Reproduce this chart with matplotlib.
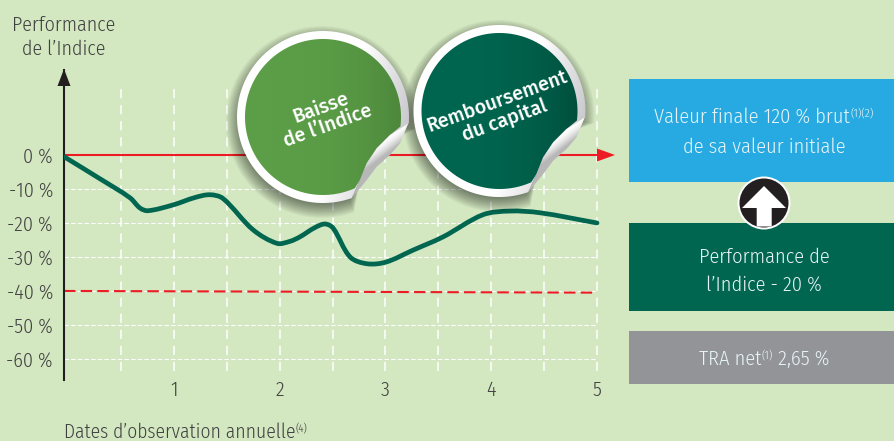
import numpy as np
import matplotlib
matplotlib.use('Agg')
import matplotlib.pyplot as plt
from matplotlib.patches import Circle, Polygon, PathPatch, Rectangle
from matplotlib.path import Path
from matplotlib import font_manager as fm

# Data
years = [-0.04, 0.3, 0.584, 0.678, 0.754, 0.99, 1.2, 1.34, 1.463, 1.747, 1.974, 2.097, 2.19,
         2.33, 2.428, 2.504, 2.665, 2.825, 3.005, 3.26, 3.544, 3.92, 4.177, 4.46, 5.0]
index_perf = [-0.5, -7, -12.6, -15.6, -16.4, -14.7, -12.5, -11.7, -12.8, -22, -26, -25.4, -24.1,
              -21.4, -20.3, -21.5, -30, -32, -31.5, -28, -24.1, -17.6, -16.5, -17, -20]
barrier_x = [-0.04, 5]
barrier_y = [-40, -40.5]
y_ticks = [0, -10, -20, -30, -40, -50, -60]
y_labels = ['0 %', '-10 %', '-20 %', '-30 %', '-40 %', '-50 %', '-60 %']
x_ticks = [1, 2, 3, 4, 5]
x_grid = [0.5, 1, 1.5, 2, 2.5, 3, 3.5, 4, 4.5, 5]

BG = '#D3E7C1'
DARK = '#00664F'
RED = '#ED1C24'
TXT = '#404040'
W, H = 894, 441

installed = {f.name for f in fm.fontManager.ttflist}
FONT = [f for f in ['Fira Sans Condensed', 'Sofia Sans Semi Condensed', 'Encode Sans Condensed', 'Roboto', 'DejaVu Sans'] if f in installed]
BOLD = [f for f in ['Fira Sans', 'Open Sans', 'DejaVu Sans'] if f in installed]

plt.rcParams['font.family'] = FONT
plt.rcParams['font.weight'] = 300
fig = plt.figure(figsize=(W / 100, H / 100), dpi=100, facecolor=BG)


def px_box(left, top, right, bottom):
    return [left / W, 1 - bottom / H, (right - left) / W, (bottom - top) / H]


def smooth(ax, xs, ys, **kw):
    # Spline through the read points, handed to matplotlib as bezier segments.
    # Tangents are scaled by chord length (in screen units) so uneven spacing stays smooth.
    p = np.c_[xs, ys]
    scale = np.array([105.75, 3.4])
    d = np.linalg.norm(np.diff(p, axis=0) * scale, axis=1)
    t = np.zeros_like(p)
    t[1:-1] = (p[2:] - p[:-2]) / (d[1:] + d[:-1])[:, None]
    t[0] = (p[1] - p[0]) / d[0]
    t[-1] = (p[-1] - p[-2]) / d[-1]
    verts = [p[0]]
    codes = [Path.MOVETO]
    for i in range(len(p) - 1):
        verts += [p[i] + t[i] * d[i] / 3, p[i + 1] - t[i + 1] * d[i] / 3, p[i + 1]]
        codes += [Path.CURVE4] * 3
    ax.add_patch(PathPatch(Path(verts, codes), facecolor='none', **kw))


# Chart axes
ax = fig.add_axes(px_box(64, 70, 620, 380), facecolor='none')
ax.set_xlim((64 - 68.25) / 105.75, (620 - 68.25) / 105.75)
ax.set_ylim(-66.2, 25)
for s in ['top', 'right', 'bottom']:
    ax.spines[s].set_visible(False)
ax.spines['left'].set_color('#231F20')
ax.spines['left'].set_linewidth(1.5)
ax.set_xticks(x_ticks)
ax.set_xticklabels([str(v) for v in x_ticks], fontsize=14.5, color=TXT)
ax.set_yticks(y_ticks)
ax.set_yticklabels(y_labels, fontsize=14.5, color=TXT)
ax.tick_params(length=0)
ax.tick_params(axis='x', pad=0)
ax.tick_params(axis='y', pad=8)

ax.hlines(y_ticks[1:], -0.04, 5, color='white', lw=0.8, linestyles=(0, (4, 2)), zorder=1)
ax.vlines(x_grid, -63.6, 20, color='white', lw=1.1, linestyles=(0, (6, 4.5)), zorder=1)
ax.plot(barrier_x, barrier_y, color=RED, lw=1.5, dashes=(5.5, 2.5), zorder=2)
ax.plot([-0.04, 5], [0, 0], color=RED, lw=1.5, zorder=2)
smooth(ax, years, index_perf, edgecolor=DARK, lw=3.4, capstyle='round', zorder=3)

# Overlay in pixel coordinates for the decorations
ov = fig.add_axes([0, 0, 1, 1], facecolor='none')
ov.set_xlim(0, W)
ov.set_ylim(H, 0)
ov.axis('off')

ov.add_patch(Polygon([(597, 148.5), (615, 155), (597, 161.5)], color=RED, lw=0))
ov.add_patch(Polygon([(57.5, 86), (64, 69), (70.5, 86)], color='#231F20', lw=0))


def sticker(cx, cy, stops, label, size):
    edge = np.array([(85.3, 6.3), (67, 18), (53.7, 31.3), (43.7, 46.3), (37, 63), (28.7, 81.3)])
    outer = np.array([(85.3, 6.3), (77, 26.3), (67, 38), (53.7, 49.7), (43.7, 63), (28.7, 81.3)])
    a0, a1 = np.radians(70.5), np.radians(364.2)
    th = np.linspace(a0, a1, 200)
    rim = np.r_[np.c_[86 * np.cos(th), 86 * np.sin(th)], edge[1:-1]] + (cx, cy)

    # soft shadow
    for i in range(16):
        r = 96 - i * 0.9
        ov.add_patch(Polygon(np.r_[np.c_[r * np.cos(th), r * np.sin(th)], edge[1:-1]] + (cx - 1, cy + 5),
                             color='black', alpha=0.03, lw=0))

    yy, xx = np.mgrid[-90:90:180j, -90:90:180j]
    t = np.clip((xx + yy * 0.3 - 20) / 70, 0, 1)[..., None]
    rim_img = np.array([1, 1, 1]) * (1 - t) + np.array([0.78, 0.78, 0.8]) * t
    im = ov.imshow(rim_img, extent=(cx - 90, cx + 90, cy + 90, cy - 90), aspect='auto', zorder=4)
    im.set_clip_path(Polygon(rim, transform=ov.transData))

    b0, b1 = np.radians(66), np.radians(367)
    th2 = np.linspace(b0, b1, 200)
    arc = np.c_[78 * np.cos(th2), 78 * np.sin(th2)]
    inner = np.r_[arc, edge[1:-1]] + (cx, cy)
    s = np.clip((xx + 78) / 156, 0, 1)[..., None] ** 3
    face = np.array(stops[0]) * (1 - s) + np.array(stops[1]) * s
    im2 = ov.imshow(face, extent=(cx - 90, cx + 90, cy + 90, cy - 90), aspect='auto', zorder=5)
    im2.set_clip_path(Polygon(inner, transform=ov.transData))

    # the peeled corner
    flap = np.r_[edge, outer[::-1][1:-1]] + (cx, cy)
    u = (xx * 0.6 + yy * 0.8 - 40) / 28
    shade = np.clip(0.72 + 0.28 * np.sin(np.clip(u, 0, 1) * np.pi), 0, 1)
    im3 = ov.imshow(np.dstack([shade, shade, shade]), extent=(cx - 90, cx + 90, cy + 90, cy - 90),
                    aspect='auto', zorder=6)
    im3.set_clip_path(Polygon(flap, transform=ov.transData))

    ov.text(cx + 1.5, cy, label, color='white', fontsize=size, fontweight=500,
            family=BOLD, rotation=20, rotation_mode='anchor', ha='center', va='center',
            linespacing=1.0, zorder=7)


sticker(323, 117, ((0.36, 0.62, 0.28), (0.30, 0.53, 0.23)), 'Baisse\nde l\u2019Indice', 14.2)
sticker(499.5, 111, ((0.0, 0.40, 0.31), (0.0, 0.31, 0.24)), 'Remboursement\ndu capital', 14.2)
ov.set_xlim(0, W)
ov.set_ylim(H, 0)

# Boxes on the right
ov.add_patch(Rectangle((629, 79), 265, 102.5, color='#27A9E1', lw=0))
ov.add_patch(Rectangle((629, 223), 265, 88, color=DARK, lw=0))
ov.add_patch(Rectangle((629, 331), 265, 52.5, color='#929497', lw=0))

ov.add_patch(Circle((764, 203), 26.5, color='white', lw=0, zorder=4))
ov.add_patch(Circle((764, 203), 24.5, color='#231F20', lw=0, zorder=4))
ov.add_patch(Polygon([(764, 186), (786, 208), (771.7, 208), (771.7, 226.5), (756.7, 226.5),
                      (756.7, 208), (742, 208)], color='white', lw=0, zorder=5))


def sup_text(x, y, parts, color, size=14.7, ha='center'):
    # parts are (string, is_superscript); measured so they sit next to each other
    r = fig.canvas.get_renderer()
    pieces = []
    for s, up in parts:
        t = ov.text(0, 0, s, color=color, fontsize=size * 0.58 if up else size, va='baseline', ha='left', zorder=8)
        pieces.append((t, t.get_window_extent(r).width, up))
    total = sum(p[1] for p in pieces)
    cur = x - total / 2 if ha == 'center' else x
    for t, w, up in pieces:
        t.set_position((cur, y - 7 if up else y))
        cur += w


BOXTXT = '#E8F4F6'
sup_text(764, 123, [('Valeur finale 120 % brut', False), ('(1)(2)', True)], BOXTXT)
ov.text(764, 153, 'de sa valeur initiale', color=BOXTXT, fontsize=14.7, ha='center', va='baseline', zorder=8)
ov.text(764, 263, 'Performance de', color=BOXTXT, fontsize=14.7, ha='center', va='baseline', zorder=8)
ov.text(764, 291, 'l\u2019Indice - 20 %', color=BOXTXT, fontsize=14.7, ha='center', va='baseline', zorder=8)
sup_text(764, 365, [('TRA net', False), ('(1)', True), (' 2,65 %', False)], BOXTXT)

ov.text(64, 31, 'Performance', color=TXT, fontsize=14.4, ha='center', va='baseline')
ov.text(64, 55, 'de l\u2019Indice', color=TXT, fontsize=14.4, ha='center', va='baseline')
sup_text(64, 438, [('Dates d\u2019observation annuelle', False), ('(4)', True)], TXT, size=14, ha='left')

fig.savefig('out.png', dpi=100, facecolor=BG)
